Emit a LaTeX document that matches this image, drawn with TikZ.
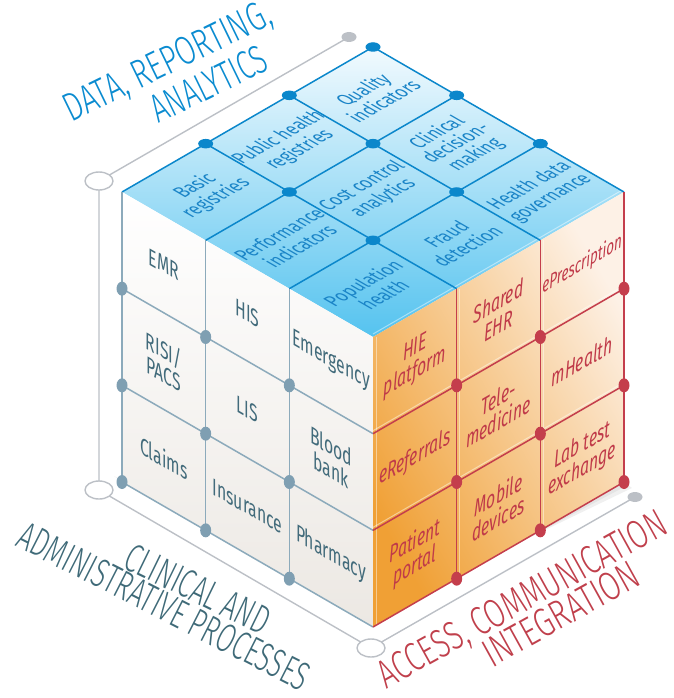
\documentclass[tikz,border=0pt]{standalone}
\usepackage{fontspec}
\usepackage{graphicx}
\usetikzlibrary{shapes.geometric}
\newfontfamily\cellfont{Fira Sans}[FakeStretch=0.76]
\IfFontExistsTF{Fira Sans Light}{\newfontfamily\axisfont{Fira Sans Light}}{\newfontfamily\axisfont{Fira Sans}}
\definecolor{blueline}{HTML}{0B87CB}
\definecolor{bluetext}{HTML}{1A84C7}
\definecolor{topA}{HTML}{F2FAFE}
\definecolor{topB}{HTML}{55C3EF}
\definecolor{leftB}{HTML}{ECE8E3}
\definecolor{leftline}{HTML}{8CAABB}
\definecolor{leftdot}{HTML}{7F9FB2}
\definecolor{lefttext}{HTML}{426B7B}
\definecolor{rightA}{HTML}{F0A035}
\definecolor{rightB}{HTML}{FDF1E6}
\definecolor{redline}{HTML}{C43E4C}
\definecolor{redtext}{HTML}{C03A49}
\definecolor{axisgrey}{HTML}{BCC0C6}
\definecolor{datablue}{HTML}{0A8BD0}
\definecolor{clinteal}{HTML}{3F6A78}
\definecolor{accred}{HTML}{C0404C}
\tikzset{
  axisline/.style={draw=axisgrey, line width=1.4pt},
  opendot/.style={ellipse, draw=axisgrey, line width=1.4pt, fill=white, minimum width=28, minimum height=18, inner sep=0},
  greydot/.style={ellipse, fill=axisgrey, minimum width=15, minimum height=10, inner sep=0},
  bluegrid/.style={draw=blueline, line width=1.5pt},
  leftgrid/.style={draw=leftline, line width=1.5pt},
  redgrid/.style={draw=redline, line width=1.5pt},
  bluedot/.style={ellipse, fill=blueline, minimum width=15, minimum height=9.5, inner sep=0},
  leftdotst/.style={ellipse, fill=leftdot, minimum width=11, minimum height=14, inner sep=0},
  reddot/.style={ellipse, fill=redline, minimum width=11, minimum height=14, inner sep=0},
  toptext/.style={cm={0.866,0.5,-0.866,0.5,(0,0)}, align=center, text=bluetext, inner sep=0, font=\cellfont\fontsize{21.5}{24}\selectfont},
  lefttextst/.style={cm={0.866,-0.5,0,1,(0,0)}, align=center, text=lefttext, inner sep=0, font=\cellfont\fontsize{24}{24}\selectfont},
  righttextst/.style={cm={0.866,0.5,0,1,(0,0)}, align=center, text=redtext, inner sep=0, font=\cellfont\itshape\fontsize{24}{24}\selectfont},
  axislabel/.style={inner sep=0}
}
\begin{document}
\begin{tikzpicture}[x=1pt,y=-1pt]
\useasboundingbox (0,0) rectangle (673,698);
% grid coordinates
\foreach \i in {0,...,3}{\foreach \j in {0,...,3}{
  \coordinate (t-\i-\j) at ({373+83.667*(\j-\i)},{47+48.333*(\i+\j)});
  \coordinate (l-\i-\j) at ({122+83.667*\i},{192+48.333*\i+96.667*\j});
  \coordinate (r-\i-\j) at ({373+83.667*\i},{337-48.333*\i+96.667*\j});
}}
\foreach \i in {0,1,2}{\foreach \j in {0,1,2}{
  \coordinate (tc-\i-\j) at ({373+83.667*(\j-\i)},{47+48.333*(\i+\j+1)});
  \coordinate (lc-\i-\j) at ({122+83.667*(\i+0.5)},{192+48.333*(\i+0.5)+96.667*(\j+0.5)});
  \coordinate (rc-\i-\j) at ({373+83.667*(\i+0.5)},{337-48.333*(\i+0.5)+96.667*(\j+0.5)});
}}
% frame
\coordinate (fa) at (349,37);
\coordinate (fb) at (99,181);
\coordinate (fc) at (99,490);
\coordinate (fd) at (371,648);
\coordinate (fe) at (635,497);
\draw[axisline] (fa) -- (fb) -- (fc) -- (fd) -- (fe);
\node[greydot] (ga) at (fa) {};
\node[greydot] (ge) at (fe) {};
\node[opendot] (ob) at (fb) {};
\node[opendot] (oc) at (fc) {};
\node[opendot] (od) at (fd) {};
% shadow
\fill[black, opacity=0.06] (l-0-3) -- (r-0-3) -- (r-3-3) -- ++(8,6) -- ([yshift=14]r-0-3) -- ([xshift=-8,yshift=6]l-0-3) -- cycle;
\fill[black, opacity=0.05] (l-0-3) -- (r-0-3) -- (r-3-3) -- ++(4,3) -- ([yshift=7]r-0-3) -- ([xshift=-4,yshift=3]l-0-3) -- cycle;
% faces
\shade[top color=topA, bottom color=topB] (t-0-0) -- (t-3-0) -- (t-3-3) -- (t-0-3) -- cycle;
\shade[top color=white, bottom color=leftB] (l-0-0) -- (l-3-0) -- (l-3-3) -- (l-0-3) -- cycle;
\shade[left color=rightA, right color=rightB, shading angle=120] (r-0-0) -- (r-3-0) -- (r-3-3) -- (r-0-3) -- cycle;
% bevel highlights on right face
\foreach \k in {0,1,2}{
  \draw[white, opacity=0.45, line width=1pt] ([yshift=3]r-0-\k) -- ([yshift=3]r-3-\k);
  \draw[white, opacity=0.45, line width=1pt] ([xshift=3]r-\k-0) -- ([xshift=3]r-\k-3);
}
% grid lines
\foreach \k in {0,1,2}{
  \draw[bluegrid] (t-\k-0) -- (t-\k-3);
  \draw[bluegrid] (t-0-\k) -- (t-3-\k);
  \draw[leftgrid] (l-\k-0) -- (l-\k-3);
}
\foreach \k in {1,2,3}{
  \draw[leftgrid] (l-0-\k) -- (l-3-\k);
  \draw[redgrid] (r-0-\k) -- (r-3-\k);
  \draw[redgrid] (r-\k-0) -- (r-\k-3);
}
% dots
\foreach \i in {0,1,2}{\foreach \j in {0,1,2}{
  \node[bluedot] (bd-\i-\j) at (t-\i-\j) {};
}}
\foreach \i in {0,1,2}{\foreach \k in {1,2,3}{
  \node[leftdotst] (ld-\i-\k) at (l-\i-\k) {};
}}
\foreach \i in {1,2,3}{\foreach \k in {1,2,3}{
  \node[reddot] (rd-\i-\k) at (r-\i-\k) {};
}}
% top face texts
\node[toptext] (quality) at (tc-0-0) {Quality\\indicators};
\node[toptext] (public) at (tc-1-0) {Public health\\registries};
\node[toptext] (basic) at (tc-2-0) {Basic\\registries};
\node[toptext, font=\cellfont\fontsize{21.5}{22}\selectfont] (clinical) at (tc-0-1) {Clinical\\decision-\\making};
\node[toptext] (cost) at (tc-1-1) {Cost control\\analytics};
\node[toptext] (perf) at (tc-2-1) {Performance\\indicators};
\node[toptext] (health) at (tc-0-2) {Health data\\governance};
\node[toptext] (fraud) at (tc-1-2) {Fraud\\detection};
\node[toptext] (pop) at (tc-2-2) {Population\\health};
% left face texts
\node[lefttextst] (emr) at (lc-0-0) {EMR};
\node[lefttextst] (his) at (lc-1-0) {HIS};
\node[lefttextst] (emerg) at (lc-2-0) {Emergency};
\node[lefttextst] (risi) at (lc-0-1) {RISI/\\PACS};
\node[lefttextst] (lis) at (lc-1-1) {LIS};
\node[lefttextst] (blood) at (lc-2-1) {Blood\\bank};
\node[lefttextst] (claims) at (lc-0-2) {Claims};
\node[lefttextst] (insur) at (lc-1-2) {Insurance};
\node[lefttextst] (pharm) at (lc-2-2) {Pharmacy};
% right face texts
\node[righttextst] (hie) at (rc-0-0) {HIE\\platform};
\node[righttextst] (shared) at (rc-1-0) {Shared\\EHR};
\node[righttextst, font=\cellfont\itshape\fontsize{20.5}{20}\selectfont] (epres) at (rc-2-0) {ePrescription};
\node[righttextst] (eref) at (rc-0-1) {eReferrals};
\node[righttextst] (tele) at (rc-1-1) {Tele-\\medicine};
\node[righttextst] (mhealth) at (rc-2-1) {mHealth};
\node[righttextst] (patient) at (rc-0-2) {Patient\\portal};
\node[righttextst] (mobile) at (rc-1-2) {Mobile\\devices};
\node[righttextst] (lab) at (rc-2-2) {Lab test\\exchange};
% axis labels
\node[axislabel, rotate=26, text=datablue] (lab1) at (168,63) {\resizebox{226pt}{28pt}{\axisfont DATA, REPORTING,}};
\node[axislabel, rotate=26, text=datablue] (lab2) at (209,84) {\resizebox{125pt}{28pt}{\axisfont ANALYTICS}};
\node[axislabel, rotate=-26, text=clinteal] (lab3) at (198,589) {\resizebox{156pt}{28pt}{\axisfont CLINICAL AND}};
\node[axislabel, rotate=-27, text=clinteal] (lab4) at (164,606) {\resizebox{322pt}{28pt}{\axisfont ADMINISTRATIVE PROCESSES}};
\node[axislabel, rotate=29, text=accred] (lab5) at (523,601) {\resizebox{324pt}{28pt}{\axisfont ACCESS, COMMUNICATION}};
\node[axislabel, rotate=29, text=accred] (lab6) at (561,614) {\resizebox{173pt}{28pt}{\axisfont INTEGRATION}};
\end{tikzpicture}
\end{document}
